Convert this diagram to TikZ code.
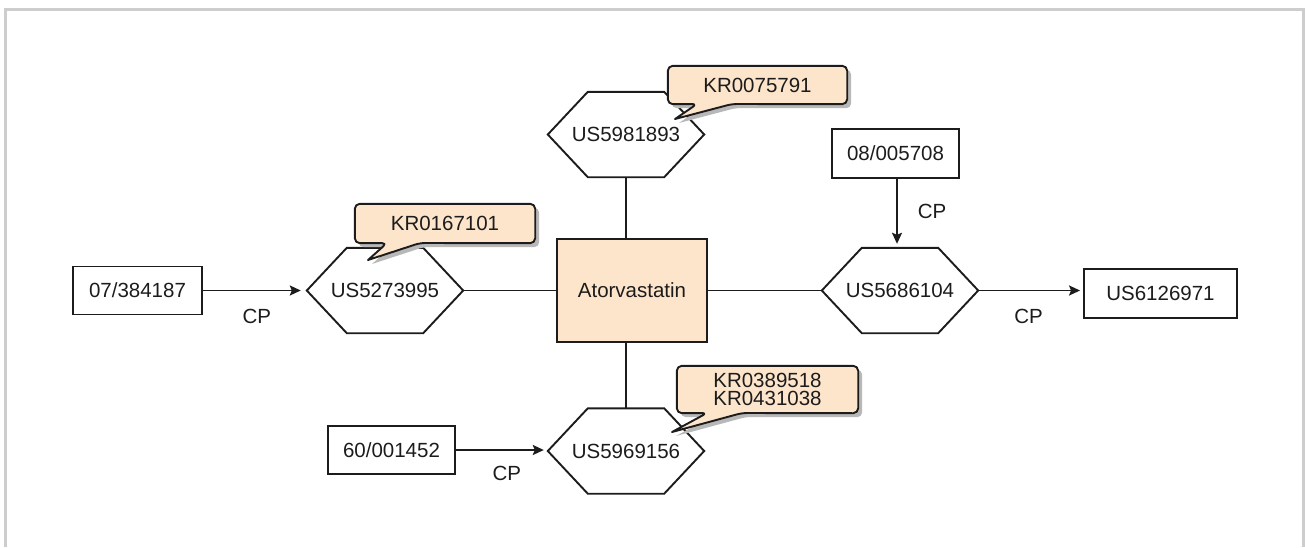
\documentclass[tikz,border=0pt]{standalone}
\usepackage{fontspec}
\setmainfont{Liberation Sans}
\usetikzlibrary{arrows.meta}
\definecolor{peach}{HTML}{FDE5CB}
\definecolor{ink}{HTML}{1C1C1C}
\definecolor{framegray}{HTML}{CDCDCD}
\definecolor{shadowgray}{HTML}{B8B8B8}
\tikzset{
  lbl/.style={font=\fontsize{20.5}{18}\selectfont, text=ink, inner sep=0pt, align=center},
  pbox/.style={lbl, draw=ink, line width=1.9pt, minimum width=#1, minimum height=48pt},
  hexa/.style={lbl, minimum width=156pt, minimum height=85pt},
  hexline/.style={draw=ink, line width=1.9pt, line join=miter},
  mainbox/.style={lbl, draw=ink, fill=peach, line width=1.9pt, minimum width=150pt, minimum height=103pt},
  callnode/.style={lbl, minimum width=#1},
  callbox/.style={draw=ink, fill=peach, line width=1.9pt, line join=round},
  callshadow/.style={fill=shadowgray},
  conn/.style={draw=ink, line width=1.9pt},
  arr/.style={conn, -{Stealth[length=11pt, width=10pt, inset=2pt]}},
  cp/.style={lbl}
}
\newcommand\hexof[1]{%
  \draw[hexline] (#1.west) -- ([xshift=40pt]#1.north west) -- ([xshift=-40pt]#1.north east)
    -- (#1.east) -- ([xshift=-40pt]#1.south east) -- ([xshift=40pt]#1.south west) -- cycle;}
\newcommand\calloutof[4]{%
  \fill[callshadow, transform canvas={xshift=4pt, yshift=-4pt}] (#1.north) [rounded corners=5pt]
    -- (#1.north east) -- (#1.south east) -- (#3) [sharp corners] -- (#4) [rounded corners=5pt]
    -- (#2) -- (#1.south west) -- (#1.north west) -- cycle;
  \filldraw[callbox] (#1.north) [rounded corners=5pt]
    -- (#1.north east) -- (#1.south east) -- (#3) [sharp corners] -- (#4) [rounded corners=5pt]
    -- (#2) -- (#1.south west) -- (#1.north west) -- cycle;}
\begin{document}
\begin{tikzpicture}[x=1pt, y=-1pt]
\useasboundingbox (0,0) rectangle (1305,547);
% frame
\draw[framegray, line width=2.7pt] (5.5,547) -- (5.5,9.7) -- (1303.3,9.7) -- (1303.3,547);

% central node
\node[mainbox] (atv) at (632,290.5) {Atorvastatin};

% hexagons
\node[hexa] (h1) at (385,290.5) {US5273995};
\node[hexa] (h2) at (626,134.5) {US5981893};
\node[hexa] (h3) at (626,451) {US5969156};
\node[hexa] (h4) at (900,290.5) {US5686104};
\hexof{h1}\hexof{h2}\hexof{h3}\hexof{h4}

% plain boxes
\node[pbox=129pt] (b1) at (137.5,290.5) {07/384187};
\node[pbox=127pt, minimum height=49pt] (b2) at (895.5,153.5) {08/005708};
\node[pbox=153pt, minimum height=49pt] (b3) at (1160.5,293.5) {US6126971};
\node[pbox=127pt] (b4) at (391.5,450) {60/001452};

% connectors
\draw[conn] (h2.south) -- (h2.south |- atv.north);
\draw[conn] (atv.south -| h3.north) -- (h3.north);
\draw[conn] (h1.east) -- (atv.west);
\draw[conn] (atv.east) -- (h4.west);

% arrows
\draw[arr, shorten >=6pt] (b1.east) -- (h1.west)
  node[cp, midway, xshift=2pt, yshift=-25.5pt] (cp1) {CP};
\draw[arr, shorten >=4pt] (b4.east) -- (b4.east -| h3.west)
  node[cp, midway, xshift=5pt, yshift=-23pt] (cp2) {CP};
\draw[arr, shorten >=4pt] (b2.south -| 897,0) -- (h4.north -| 897,0)
  node[cp, midway, xshift=35pt, yshift=2pt] (cp3) {CP};
\draw[arr, shorten >=3pt] (h4.east) -- (b3.west |- h4.east)
  node[cp, midway, xshift=-2pt, yshift=-25.5pt] (cp4) {CP};

% callouts
\node[callnode=180pt, minimum height=39pt] (c1) at (445,223.5) {};
\coordinate (c1l) at (387,243);
\coordinate (c1r) at (420,243);
\coordinate (c1t) at (368,260);
\calloutof{c1}{c1l}{c1r}{c1t}
\node[lbl] (c1text) at (c1) {KR0167101};

\node[callnode=179pt, minimum height=38pt] (c2) at (757.5,85) {};
\coordinate (c2l) at (697,104);
\coordinate (c2r) at (732,104);
\coordinate (c2t) at (675,119);
\calloutof{c2}{c2l}{c2r}{c2t}
\node[lbl] (c2text) at (c2) {KR0075791};

\node[callnode=181pt, minimum height=47pt] (c3) at (767.5,389.5) {};
\coordinate (c3l) at (707,413);
\coordinate (c3r) at (742,413);
\coordinate (c3t) at (672,432);
\calloutof{c3}{c3l}{c3r}{c3t}
\node[lbl] (c3text) at (c3) {KR0389518\\KR0431038};
\end{tikzpicture}
\end{document}
